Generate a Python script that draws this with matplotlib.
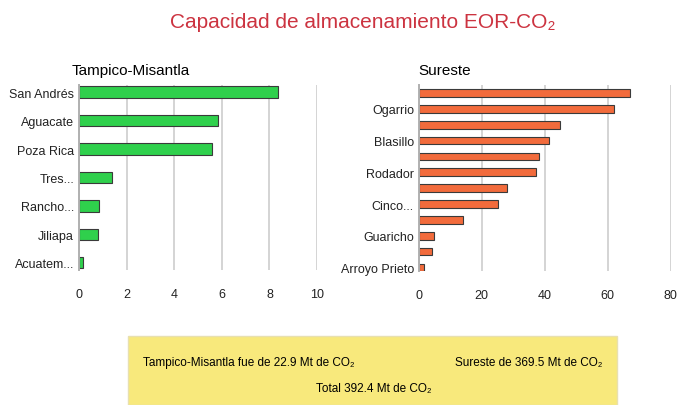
import matplotlib

matplotlib.use("Agg")

import matplotlib.pyplot as plt
from matplotlib.patches import Rectangle

plt.rcParams["font.family"] = ["Liberation Sans Narrow", "Liberation Sans", "DejaVu Sans"]

# Tampico-Misantla (Mt CO2)
tm_labels = ["San Andrés", "Aguacate", "Poza Rica", "Tres...", "Rancho...", "Jiliapa", "Acuatem..."]
tm_values = [8.35, 5.85, 5.6, 1.4, 0.85, 0.78, 0.17]
tm_ticks = [0, 2, 4, 6, 8, 10]

# Sureste (Mt CO2) - only every other category is labelled
se_labels = ["", "Ogarrio", "", "Blasillo", "", "Rodador", "", "Cinco...", "", "Guaricho", "", "Arroyo Prieto"]
se_values = [67.2, 61.9, 45.0, 41.2, 38.2, 37.1, 28.1, 25.2, 13.9, 4.7, 4.3, 1.6]
se_ticks = [0, 20, 40, 60, 80]

tm_total = 22.9
se_total = 369.5
grand_total = 392.4

GREEN = "#2fd04c"
ORANGE = "#f26b3c"
GRID = "#d4d4d4"


def style_axis(ax, ticks, labels):
    ax.set_xticks(ticks)
    ax.set_xlim(ticks[0], ticks[-1])
    ax.set_yticks(range(len(labels)))
    ax.set_yticklabels(labels)
    ax.grid(axis="x", color=GRID, linewidth=1.4)
    ax.set_axisbelow(True)
    for side in ["top", "right", "bottom"]:
        ax.spines[side].set_visible(False)
    ax.spines["left"].set_color("#b0b0b0")
    ax.spines["left"].set_linewidth(1.4)
    ax.tick_params(length=0, labelsize=9, colors="#222222")
    ax.tick_params(axis="x", pad=13)


fig = plt.figure(figsize=(6.9, 4.06), dpi=100)

ax1 = fig.add_axes([0.1145, 0.333, 0.345, 0.455])
ax1.barh(range(len(tm_values)), tm_values, height=0.4, color=GREEN,
         edgecolor="#3a3a3a", linewidth=0.8)
style_axis(ax1, tm_ticks, tm_labels)
ax1.set_ylim(len(tm_values) - 0.75, -0.25)
ax1.set_title("Tampico-Misantla", fontsize=11, loc="left", x=-0.03, pad=8)

ax2 = fig.add_axes([0.607, 0.331, 0.365, 0.457])
ax2.barh(range(len(se_values)), se_values, height=0.48, color=ORANGE,
         edgecolor="#3a3a3a", linewidth=0.8)
style_axis(ax2, se_ticks, se_labels)
ax2.set_ylim(len(se_values) - 0.8, -0.5)
ax2.set_title("Sureste", fontsize=11, loc="left", pad=8)

fig.text(0.525, 0.945, "Capacidad de almacenamiento EOR-CO\u2082", ha="center", va="center",
         fontsize=15, color="#cc3340")

# summary box
fig.patches.append(Rectangle((0.186, 0.0), 0.708, 0.17, transform=fig.transFigure,
                             facecolor="#f8e97c", edgecolor="#e8e0b0", linewidth=1))
fig.text(0.207, 0.105, f"Tampico-Misantla fue de {tm_total} Mt de CO\u2082", ha="left",
         va="center", fontsize=8.5)
fig.text(0.873, 0.105, f"Sureste de {se_total} Mt de CO\u2082", ha="right",
         va="center", fontsize=8.5)
fig.text(0.541, 0.043, f"Total {grand_total} Mt de CO\u2082", ha="center",
         va="center", fontsize=8.5)

fig.savefig("out.png", dpi=100)
plt.close(fig)
